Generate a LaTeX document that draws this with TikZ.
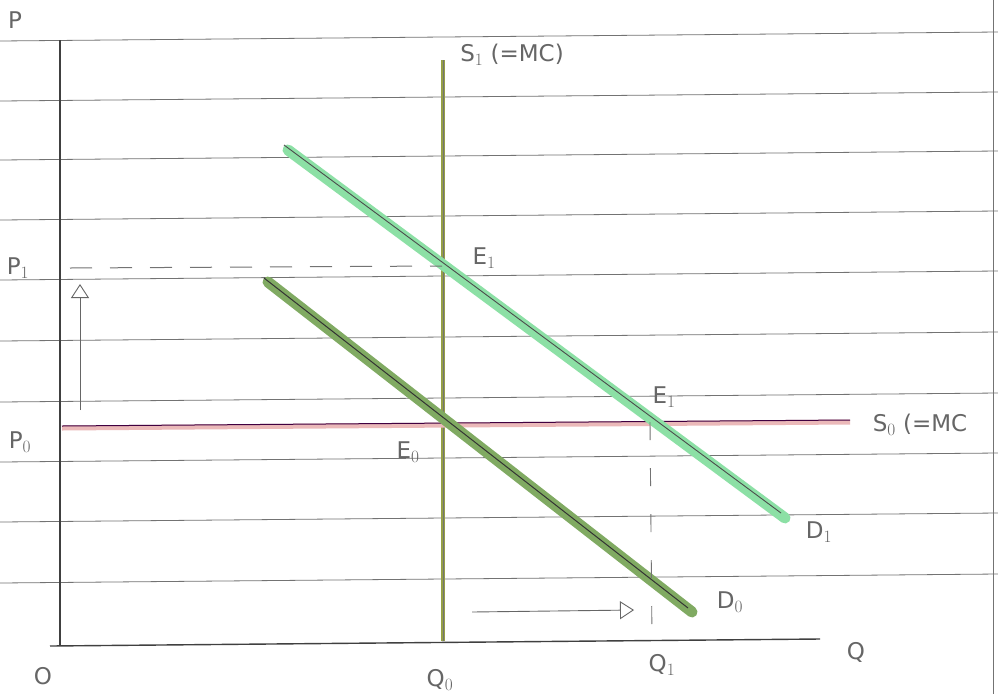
\documentclass[tikz,border=0pt]{standalone}
\usepackage{fontspec}
\setmainfont{DejaVu Sans}
\usetikzlibrary{arrows.meta}
\definecolor{dlight}{RGB}{140,224,165}
\definecolor{ddark}{RGB}{128,170,98}
\definecolor{solive}{RGB}{150,160,70}
\definecolor{spink}{RGB}{235,185,185}
\begin{document}
\begin{tikzpicture}[x=1pt,y=-1pt,
  rule/.style={draw=black!55,line width=0.8pt},
  axis/.style={draw=black!75,line width=1.4pt},
  lbl/.style={text=black!60,font=\fontsize{23}{25}\selectfont},
  hand/.style={draw=black!60,line width=0.9pt}]
\useasboundingbox (0,0) rectangle (998,694);
\fill[white] (0,0) rectangle (998,694);
% ruled paper
\foreach \y in {41,101,160,220,280,341,402,462,522,583}
  \draw[rule] (0,\y) -- (998,\y-9);
\draw[rule] (993,0) -- (993,694);
% axes
\coordinate (O) at (60,646);
\coordinate (Ptop) at (60,40);
\coordinate (Qend) at (820,639);
\draw[axis] (Ptop) -- (O);
\draw[axis] (50,646) -- (Qend);
% S1 vertical
\coordinate (S1t) at (443,60);
\coordinate (S1b) at (443,641);
\draw[draw=solive,line width=4pt] (S1t) -- (S1b);
\draw[draw=black!55,line width=0.7pt] (S1t) -- (S1b);
% S0 horizontal
\coordinate (S0l) at (62,426);
\coordinate (S0r) at (850,420);
\draw[draw=spink,line width=5pt] ([yshift=-2pt]S0l) -- ([yshift=-2pt]S0r);
\draw[draw=violet!50!black,line width=1pt] (S0l) -- (S0r);
% D1
\coordinate (D1a) at (288,150);
\coordinate (D1b) at (785,518);
\draw[draw=dlight,line width=11pt,line cap=round] (D1a) -- (D1b);
\draw[draw=black!70,line width=0.9pt] ([xshift=-4pt,yshift=5pt]D1a) -- ([xshift=-4pt,yshift=5pt]D1b);
% D0
\coordinate (D0a) at (268,282);
\coordinate (D0b) at (692,612);
\draw[draw=ddark,line width=11pt,line cap=round] (D0a) -- (D0b);
\draw[draw=black!80,line width=1pt] ([xshift=-4pt,yshift=4pt]D0a) -- ([xshift=-4pt,yshift=4pt]D0b);
% P1 dashed
\coordinate (P1l) at (70,268);
\coordinate (E1) at (442,266);
\draw[draw=black!55,line width=1pt,dash pattern=on 22pt off 18pt] (P1l) -- (E1);
% Q1 dashed
\coordinate (E1p) at (650,422);
\coordinate (Q1b) at (652,640);
\draw[draw=black!55,line width=0.9pt,dash pattern=on 18pt off 28pt] (E1p) -- (Q1b);
% arrows
\coordinate (Au1) at (80,410);
\coordinate (Au2) at (80,284);
\draw[hand,-{Triangle[open,length=14pt,width=18pt]}] (Au1) -- (Au2);
\coordinate (Ar1) at (472,612);
\coordinate (Ar2) at (634,610);
\draw[hand,-{Triangle[open,length=14pt,width=18pt]}] (Ar1) -- (Ar2);
% labels
\node[lbl] (lP) at (15,20) {P};
\node[lbl] (lO) at (43,676) {O};
\node[lbl] (lQ0) at (440,680) {Q$_0$};
\node[lbl] (lQ1) at (662,665) {Q$_1$};
\node[lbl] (lQ) at (856,652) {Q};
\node[lbl] (lS1) at (512,55) {S$_1$ (=MC)};
\node[lbl] (lS0) at (920,425) {S$_0$ (=MC};
\node[lbl] (lP1) at (18,268) {P$_1$};
\node[lbl] (lP0) at (20,442) {P$_0$};
\node[lbl] (lE1) at (484,258) {E$_1$};
\node[lbl] (lE1p) at (664,397) {E$_1$};
\node[lbl] (lE0) at (408,452) {E$_0$};
\node[lbl] (lD1) at (819,532) {D$_1$};
\node[lbl] (lD0) at (730,602) {D$_0$};
\end{tikzpicture}
\end{document}
